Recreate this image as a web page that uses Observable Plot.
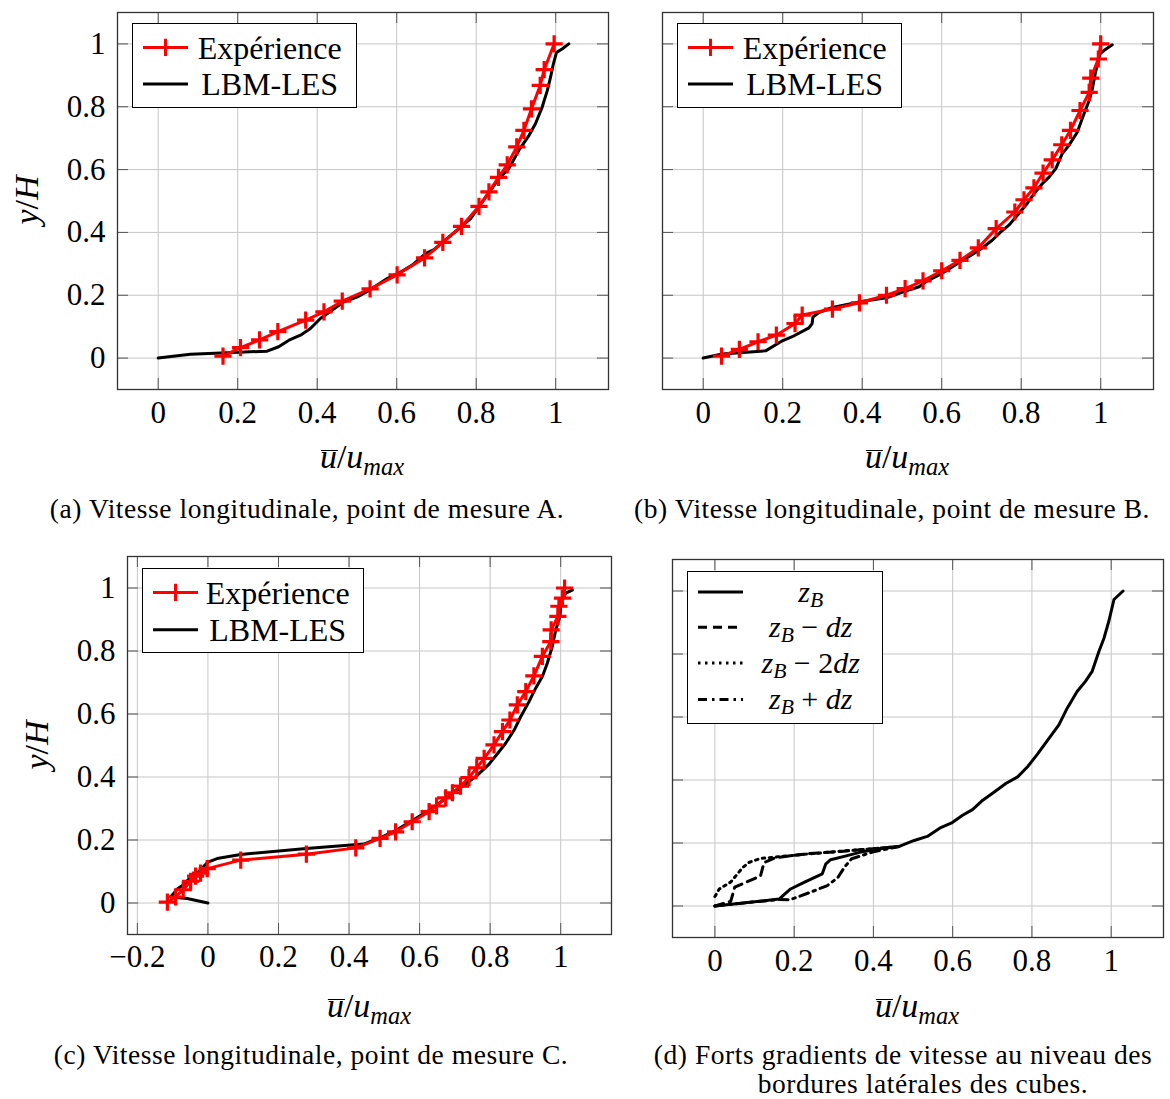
<!DOCTYPE html>
<html><head><meta charset="utf-8">
<script src="https://cdn.jsdelivr.net/npm/d3@7"></script>
<script src="https://cdn.jsdelivr.net/npm/@observablehq/plot@0.6"></script>
<style>
body{margin:0;background:#fff;}
#fig, #fig *{font-family:"Liberation Serif","DejaVu Serif",serif !important;}
#fig{position:relative;width:1170px;height:1099px;color:#000;overflow:hidden;}
.panel{position:absolute;}
.lbl{position:absolute;white-space:nowrap;font-size:34px;line-height:34px;}
.cap{position:absolute;white-space:nowrap;font-size:27.5px;line-height:22px;letter-spacing:0.55px;transform:translateX(-50%);}
.legend{position:absolute;border:1.2px solid #000;background:#fff;box-sizing:border-box;}
.legend svg{position:absolute;left:0;top:0;}
.ltxt{position:absolute;white-space:nowrap;font-size:32px;line-height:28px;transform:translateX(-50%);}
.ltxt.small{font-size:30px;line-height:24px;}
sub{font-size:0.72em;vertical-align:-0.28em;line-height:0;}
.ltxt.small sub{vertical-align:-0.22em;}
.ov{position:relative;font-style:italic;}
.ov::before{content:"";position:absolute;left:1px;right:-1px;top:12px;border-top:1.7px solid #000;}
</style>
</head><body>
<div id="fig"></div>
<script>
// ---------- data ----------
const xTicksAB = [0, 0.2, 0.4, 0.6, 0.8, 1];
const xTicksC = [-0.2, 0, 0.2, 0.4, 0.6, 0.8, 1];
const yTicks = [0, 0.2, 0.4, 0.6, 0.8, 1];

// (a) point A
const A_exp_u = [0.163,0.207,0.255,0.301,0.371,0.417,0.463,0.533,0.601,0.670,0.716,0.763,0.807,0.832,0.856,0.878,0.902,0.920,0.939,0.961,0.971,0.996];
const A_exp_y = [0.006,0.033,0.058,0.084,0.121,0.147,0.181,0.220,0.265,0.319,0.368,0.419,0.483,0.529,0.575,0.615,0.672,0.725,0.793,0.868,0.918,1.0];
const A_les_u = [0,0.081,0.174,0.274,0.303,0.329,0.358,0.383,0.408,0.438,0.467,0.501,0.534,0.576,0.610,0.639,0.673,0.694,0.719,0.752,0.786,0.811,0.836,0.857,0.882,0.907,0.933,0.949,0.966,0.979,0.987,0.994,1.002,1.016,1.033];
const A_les_y = [0,0.012,0.017,0.022,0.036,0.057,0.073,0.094,0.126,0.153,0.179,0.195,0.218,0.253,0.274,0.296,0.333,0.345,0.373,0.407,0.444,0.489,0.534,0.571,0.603,0.661,0.709,0.746,0.799,0.852,0.894,0.936,0.973,0.984,1.0];

// (b) point B
const B_exp_u = [0.046,0.091,0.138,0.184,0.231,0.249,0.325,0.393,0.461,0.508,0.553,0.600,0.646,0.692,0.737,0.784,0.807,0.832,0.855,0.878,0.902,0.924,0.948,0.971,0.975,0.994,1.0];
const B_exp_y = [0.006,0.028,0.052,0.073,0.110,0.137,0.156,0.176,0.200,0.221,0.246,0.278,0.311,0.351,0.412,0.465,0.504,0.542,0.589,0.631,0.679,0.725,0.788,0.846,0.891,0.952,1.0];
const B_les_u = [0,0.048,0.157,0.199,0.224,0.266,0.274,0.276,0.291,0.325,0.393,0.461,0.509,0.543,0.560,0.600,0.646,0.694,0.727,0.748,0.769,0.790,0.815,0.832,0.853,0.870,0.887,0.903,0.920,0.941,0.958,0.971,0.979,0.987,0.998,1.008,1.029];
const B_les_y = [0,0.013,0.023,0.055,0.068,0.096,0.110,0.131,0.145,0.161,0.179,0.192,0.213,0.227,0.243,0.269,0.306,0.343,0.375,0.401,0.423,0.454,0.492,0.523,0.555,0.576,0.603,0.650,0.677,0.719,0.778,0.820,0.857,0.910,0.968,0.979,0.997];

// (c) point C
const C_exp_u = [-0.115,-0.092,-0.070,-0.049,-0.035,-0.021,-0.002,0.093,0.279,0.419,0.488,0.532,0.579,0.627,0.648,0.674,0.693,0.716,0.740,0.762,0.783,0.811,0.835,0.856,0.877,0.901,0.924,0.948,0.972,0.973,0.992,0.995,1.005,1.011];
const C_exp_y = [0.003,0.019,0.042,0.069,0.085,0.095,0.109,0.136,0.155,0.175,0.205,0.226,0.258,0.290,0.308,0.334,0.350,0.371,0.398,0.429,0.459,0.502,0.544,0.581,0.629,0.671,0.721,0.783,0.830,0.867,0.910,0.942,0.968,1.0];
const C_les_u = [0,-0.059,-0.106,-0.085,-0.068,-0.047,-0.030,0,0.026,0.093,0.279,0.442,0.490,0.537,0.584,0.631,0.679,0.726,0.764,0.797,0.820,0.844,0.868,0.887,0.910,0.929,0.948,0.962,0.976,0.986,0.998,1.0,1.014,1.033];
const C_les_y = [0,0.014,0.019,0.046,0.059,0.085,0.095,0.130,0.141,0.154,0.173,0.187,0.208,0.233,0.265,0.297,0.337,0.374,0.406,0.441,0.473,0.507,0.549,0.592,0.639,0.682,0.719,0.761,0.814,0.867,0.910,0.952,0.984,0.993];

// (d) gradients near the lateral edges
const D_zB_u = [0,0.162,0.191,0.225,0.271,0.280,0.292,0.334,0.368,0.418,0.465,0.503,0.536,0.570,0.599,0.625,0.650,0.676,0.705,0.734,0.764,0.789,0.814,0.843,0.868,0.889,0.914,0.935,0.952,0.969,0.982,0.994,1.007,1.030];
const D_zB_y = [0,0.022,0.054,0.075,0.102,0.134,0.147,0.160,0.171,0.182,0.189,0.208,0.221,0.249,0.265,0.288,0.306,0.336,0.362,0.389,0.410,0.442,0.482,0.532,0.575,0.628,0.681,0.713,0.745,0.808,0.851,0.904,0.973,1.0];
const D_m1_u = [0,0.040,0.050,0.115,0.124,0.152,0.234,0.318,0.400,0.465];
const D_m1_y = [0,0.015,0.060,0.095,0.138,0.153,0.166,0.173,0.182,0.189];
const D_m2_u = [0,0.011,0.040,0.070,0.087,0.116,0.158,0.234,0.318,0.400,0.465];
const D_m2_y = [0.030,0.054,0.076,0.122,0.139,0.151,0.156,0.165,0.174,0.182,0.189];
const D_p1_u = [0,0.162,0.190,0.242,0.284,0.310,0.328,0.345,0.400,0.465];
const D_p1_y = [0,0.021,0.020,0.044,0.065,0.090,0.125,0.150,0.172,0.189];

const legendAB = ["Expérience", "LBM-LES"];
const legendD = ["<i>z<sub>B</sub></i>", "<i>z<sub>B</sub></i> − <i>dz</i>", "<i>z<sub>B</sub></i> − 2<i>dz</i>", "<i>z<sub>B</sub></i> + <i>dz</i>"];
const captions = [
  "(a) Vitesse longitudinale, point de mesure A.",
  "(b) Vitesse longitudinale, point de mesure B.",
  "(c) Vitesse longitudinale, point de mesure C.",
  "(d) Forts gradients de vitesse au niveau des",
  "bordures latérales des cubes."
];

// ---------- helpers ----------
const pts = (u, y) => u.map((d, i) => ({u: d, y: y[i]}));
const fmt = d => String(d).replace("-", "\u2212");
const RED = "#ff0000";
const LW = 3;
const fig = document.getElementById("fig");

function panel(o) {
  const fw = o.width - o.ml - o.mr, fh = o.height - o.mt - o.mb;
  const grid = {stroke: "#c6c6c6", strokeOpacity: 1, strokeWidth: 1};
  const tk = {stroke: "#555", strokeWidth: 1};
  const marks = [
    Plot.gridX(o.xTicks, grid),
    Plot.gridY(yTicks, grid),
    Plot.tickX(o.xTicks, {x: d => d, insetTop: fh - 11, ...tk}),
    Plot.tickX(o.xTicks, {x: d => d, insetBottom: fh - 11, ...tk}),
    Plot.tickY(yTicks, {y: d => d, insetRight: fw - 11, ...tk}),
    Plot.tickY(yTicks, {y: d => d, insetLeft: fw - 11, ...tk}),
    ...o.marks,
    Plot.frame({stroke: "#333", strokeWidth: 1.3}),
    Plot.axisX(o.xTicks, {tickSize: 0, tickPadding: o.xpad, label: null, tickFormat: fmt, fontSize: 31})
  ];
  if (o.yLabels) marks.push(Plot.axisY(yTicks, {tickSize: 0, tickPadding: 12, label: null, tickFormat: fmt, fontSize: 31}));
  const svg = Plot.plot({
    width: o.width, height: o.height,
    marginLeft: o.ml, marginRight: o.mr, marginTop: o.mt, marginBottom: o.mb,
    x: {domain: o.xDomain},
    y: {domain: [-0.1, 1.1], axis: o.yLabels ? undefined : null},
    style: {fontFamily: "'Liberation Serif', serif", fontSize: "31px", color: "#000", background: "transparent", overflow: "visible"},
    marks
  });
  svg.classList.add("panel");
  svg.style.left = o.left + "px";
  svg.style.top = o.top + "px";
  fig.appendChild(svg);
}

function div(cls, html, style) {
  const d = document.createElement("div");
  d.className = cls; d.innerHTML = html;
  Object.assign(d.style, style);
  fig.appendChild(d);
  return d;
}

function legend(o) {
  const box = div("legend", "", {left: o.left + "px", top: o.top + "px", width: o.width + "px", height: o.height + "px"});
  const svg = d3.create("svg").attr("width", o.width).attr("height", o.height);
  o.rows.forEach(r => {
    const l = svg.append("line").attr("x1", 10).attr("x2", 55).attr("y1", r.y).attr("y2", r.y)
      .attr("stroke", r.color).attr("stroke-width", LW);
    if (r.dash) l.attr("stroke-dasharray", r.dash);
    if (r.cross) {
      svg.append("path").attr("d", d3.symbol(d3.symbolPlus, Math.PI * 5.6 * 5.6)())
        .attr("transform", `translate(32.5,${r.y})`).attr("fill", "none").attr("stroke", r.color).attr("stroke-width", 3);
    }
    const t = document.createElement("div");
    t.className = "ltxt" + (o.small ? " small" : ""); t.innerHTML = r.text;
    t.style.left = o.tx + "px"; t.style.top = (r.y - (o.small ? 12 : 14)) + "px";
    box.appendChild(t);
  });
  box.appendChild(svg.node());
}

const lineBlack = (u, y, extra = {}) => Plot.line(pts(u, y), {x: "u", y: "y", stroke: "#000", strokeWidth: LW, ...extra});
const expMarks = (u, y) => [
  Plot.line(pts(u, y), {x: "u", y: "y", stroke: RED, strokeWidth: LW}),
  Plot.dot(pts(u, y), {x: "u", y: "y", symbol: "plus", r: 5.6, stroke: RED, strokeWidth: 3.2})
];

// ---------- panels ----------
panel({left: 0, top: 0, width: 620, height: 430, ml: 117, mr: 12, mt: 12, mb: 41, xpad: 11,
  xDomain: [-0.1024, 1.1328], xTicks: xTicksAB, yLabels: true,
  marks: [lineBlack(A_les_u, A_les_y), ...expMarks(A_exp_u, A_exp_y)]});
panel({left: 620, top: 0, width: 550, height: 430, ml: 42, mr: 17, mt: 12, mb: 41, xpad: 11,
  xDomain: [-0.1024, 1.1328], xTicks: xTicksAB, yLabels: false,
  marks: [lineBlack(B_les_u, B_les_y), ...expMarks(B_exp_u, B_exp_y)]});
panel({left: 0, top: 545, width: 625, height: 430, ml: 127, mr: 14, mt: 11, mb: 41, xpad: 10,
  xDomain: [-0.228, 1.144], xTicks: xTicksC, yLabels: true,
  marks: [lineBlack(C_les_u, C_les_y), ...expMarks(C_exp_u, C_exp_y)]});
panel({left: 625, top: 545, width: 545, height: 430, ml: 47, mr: 7, mt: 14, mb: 38, xpad: 11,
  xDomain: [-0.107, 1.132], xTicks: xTicksAB, yLabels: false,
  marks: [
    lineBlack(D_m1_u, D_m1_y, {strokeDasharray: "9,6"}),
    lineBlack(D_m2_u, D_m2_y, {strokeDasharray: "2.5,4.5"}),
    lineBlack(D_p1_u, D_p1_y, {strokeDasharray: "9,5,2.5,5"}),
    lineBlack(D_zB_u, D_zB_y)
  ]});

// ---------- axis labels ----------
const xl = '<span class="ov">u</span>/<i>u</i><sub><i>max</i></sub>';
[[362, 440], [907, 440], [369, 989], [917, 989]].forEach(([x, t]) =>
  div("lbl", xl, {left: x + "px", top: t + "px", transform: "translateX(-50%)"}));
const yl = "<i>y</i>/<i>H</i>";
[[27, 200], [37, 745]].forEach(([x, y]) =>
  div("lbl", yl, {left: x + "px", top: y + "px", transform: "translate(-50%,-50%) rotate(-90deg)"}));

// ---------- legends ----------
const rowsAB = [
  {y: 23.4, color: RED, cross: true, text: legendAB[0]},
  {y: 60, color: "#000", text: legendAB[1]}
];
legend({left: 131.7, top: 23.3, width: 225, height: 85, tx: 137, rows: rowsAB});
legend({left: 676.7, top: 23.3, width: 225, height: 85, tx: 137, rows: rowsAB});
legend({left: 141.7, top: 568.3, width: 222, height: 85, tx: 135, rows: [
  {y: 23.4, color: RED, cross: true, text: legendAB[0]},
  {y: 60.7, color: "#000", text: legendAB[1]}
]});
legend({left: 686.7, top: 570.7, width: 196, height: 153, tx: 123, small: true, rows: [
  {y: 20, color: "#000", text: legendD[0]},
  {y: 55.3, color: "#000", dash: "9,6", text: legendD[1]},
  {y: 91, color: "#000", dash: "2.5,4.5", text: legendD[2]},
  {y: 127.6, color: "#000", dash: "9,5,2.5,5", text: legendD[3]}
]});

// ---------- captions ----------
div("cap", captions[0], {left: "307px", top: "498px"});
div("cap", captions[1], {left: "892px", top: "498px"});
div("cap", captions[2], {left: "311px", top: "1044px"});
div("cap", captions[3], {left: "903px", top: "1044px"});
div("cap", captions[4], {left: "923px", top: "1073px"});
</script>
</body></html>
